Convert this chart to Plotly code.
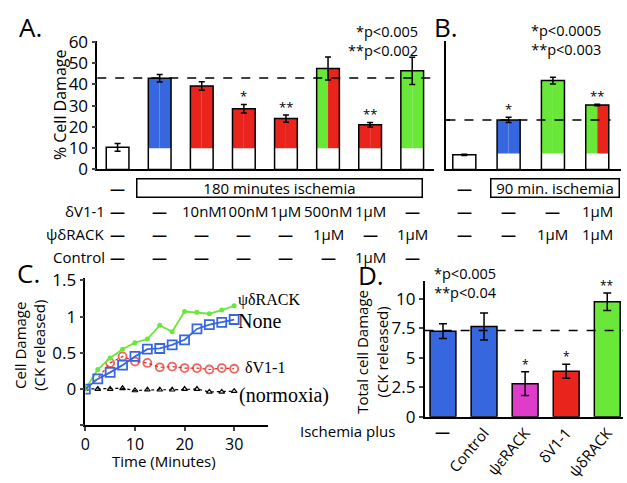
import plotly.graph_objects as go

W, H = 627, 483
def px(x): return x / W
def py(y): return 1 - y / H

FONT = "Open Sans"
SERIF = "Liberation Serif"
BLUE = "#3767df"
RED = "#e8241c"
GREEN = "#6ae83a"
MAGENTA = "#e03ccc"

# ---------------- Panel A data ----------------
A_vals = [10.4, 42.9, 39.3, 28.6, 23.9, 47.5, 21.0, 46.4]
A_err = [1.8, 1.8, 2.0, 2.0, 1.7, 5.4, 1.1, 6.4]
A_base = 10
A_left = ["white", BLUE, RED, RED, RED, GREEN, RED, GREEN]
A_right = ["white", BLUE, RED, RED, RED, RED, RED, GREEN]
A_stars = ["", "", "", "*", "**", "", "**", ""]
A_ref = 43
A_dv1 = ["—", "—", "10nM", "100nM", "1μM", "500nM", "1μM", "—"]
A_psi = ["—", "—", "—", "—", "—", "1μM", "—", "1μM"]
A_ctrl = ["—", "—", "—", "—", "—", "—", "1μM", "—"]
A_isch = "180 minutes ischemia"
A_pvals = ["*p<0.005", "**p<0.002"]

# ---------------- Panel B data ----------------
B_vals = [6.9, 23.3, 41.8, 30.3]
B_err = [0.3, 1.2, 1.6, 0.4]
B_base = 7.5
B_left = ["white", BLUE, GREEN, GREEN]
B_right = ["white", BLUE, GREEN, RED]
B_stars = ["", "*", "", "**"]
B_ref = 23.3
B_dv1 = ["—", "—", "—", "1μM"]
B_psi = ["—", "—", "1μM", "1μM"]
B_isch = "90 min. ischemia"
B_pvals = ["*p<0.0005", "**p<0.003"]

row_labels = ["δV1-1", "ψδRACK", "Control"]

# ---------------- Panel C data ----------------
C_time = [0, 2.5, 5, 7.5, 10, 12.5, 15, 17.5, 20, 22.5, 25, 27.5, 30]
C_psi = [0, 0.27, 0.43, 0.55, 0.64, 0.69, 0.88, 0.79, 1.07, 1.06, 1.04, 1.09, 1.15]
C_none = [0, 0.14, 0.23, 0.33, 0.45, 0.55, 0.56, 0.61, 0.68, 0.83, 0.89, 0.92, 0.96]
C_dv1 = [0, 0.15, 0.36, 0.45, 0.38, 0.36, 0.30, 0.31, 0.29, 0.29, 0.27, 0.29, 0.28]
C_norm = [0, 0.0, 0.0, 0.01, -0.02, -0.01, -0.01, -0.01, 0.0, 0.0, -0.04, -0.04, -0.03]
C_names = ["ψδRACK", "None", "δV1-1", "(normoxia)"]

# ---------------- Panel D data ----------------
D_cats = ["—", "Control", "ψεRACK", "δV1-1", "ψδRACK"]
D_vals = [7.25, 7.65, 2.8, 3.85, 9.75]
D_err = [0.63, 1.15, 1.0, 0.6, 0.75]
D_colors = [BLUE, BLUE, MAGENTA, RED, GREEN]
D_stars = ["", "", "*", "*", "**"]
D_ref = 7.3
D_pvals = ["*p<0.005", "**p<0.04"]

fig = go.Figure()

def stacked_bars(vals, err, base, left, right, xa, ya, width):
    n = len(vals)
    xs = list(range(n))
    fig.add_trace(go.Bar(x=xs, y=[min(v, base) for v in vals], width=width,
                         marker=dict(color="white", line=dict(width=0)),
                         xaxis=xa, yaxis=ya, showlegend=False, hoverinfo="skip"))
    tops = [max(v - base, 0) for v in vals]
    fig.add_trace(go.Bar(x=xs, y=tops, base=[base] * n, width=width / 2, offset=-width / 2,
                         marker=dict(color=left, line=dict(width=0)),
                         xaxis=xa, yaxis=ya, showlegend=False))
    fig.add_trace(go.Bar(x=xs, y=tops, base=[base] * n, width=width / 2, offset=0,
                         marker=dict(color=right, line=dict(width=0)),
                         xaxis=xa, yaxis=ya, showlegend=False))
    fig.add_trace(go.Bar(x=xs, y=vals, width=width,
                         marker=dict(color="rgba(0,0,0,0)", line=dict(color="black", width=1.5)),
                         error_y=dict(type="data", array=err, color="black", thickness=1.5, width=3),
                         xaxis=xa, yaxis=ya, showlegend=False))

stacked_bars(A_vals, A_err, A_base, A_left, A_right, "x", "y", 0.54)
stacked_bars(B_vals, B_err, B_base, B_left, B_right, "x2", "y2", 0.52)

# Panel C lines
fig.add_trace(go.Scatter(x=C_time, y=C_norm, mode="lines+markers", xaxis="x3", yaxis="y3",
                         line=dict(color="black", width=1.2, dash="dot"),
                         marker=dict(symbol="triangle-up-open", size=5, color="black", line=dict(width=1.2)),
                         showlegend=False))
fig.add_trace(go.Scatter(x=C_time, y=C_dv1, mode="lines+markers", xaxis="x3", yaxis="y3",
                         line=dict(color=RED, width=1.2, dash="dot"),
                         marker=dict(symbol="circle-open", size=[0, 0] + [8] * 11, color=RED, line=dict(width=1.8)),
                         showlegend=False))
fig.add_trace(go.Scatter(x=C_time, y=C_psi, mode="lines+markers", xaxis="x3", yaxis="y3",
                         line=dict(color=GREEN, width=1.8),
                         marker=dict(symbol="circle", size=5, color=GREEN),
                         showlegend=False))
fig.add_trace(go.Scatter(x=C_time, y=C_none, mode="lines+markers", xaxis="x3", yaxis="y3",
                         line=dict(color=BLUE, width=1.8),
                         marker=dict(symbol="square-open", size=9, color=BLUE, line=dict(width=1.8)),
                         showlegend=False))

# Panel D bars
fig.add_trace(go.Bar(x=list(range(len(D_vals))), y=D_vals, width=0.63,
                     marker=dict(color=D_colors, line=dict(color="black", width=1.5)),
                     error_y=dict(type="data", array=D_err, color="black", thickness=1.5, width=4),
                     xaxis="x4", yaxis="y4", showlegend=False))

tickfont = dict(family=FONT, size=17, color="black")
common_x = dict(showgrid=False, zeroline=False, showline=True, linecolor="black", linewidth=1.5)
common_y = dict(showgrid=False, zeroline=False, showline=True, linecolor="black", linewidth=1.5)

fig.update_layout(
    width=W, height=H, autosize=False,
    margin=dict(l=0, r=0, t=0, b=0),
    paper_bgcolor="white", plot_bgcolor="white",
    barmode="overlay",
    font=dict(family=FONT, color="black"),
    xaxis=dict(domain=[px(93), px(432)], range=[-0.483, 7.507], anchor="y",
               showticklabels=False, ticks="", **common_x),
    yaxis=dict(domain=[py(166), py(31)], range=[0, 60.6], anchor="x",
               tickvals=[0, 10, 20, 30, 40, 50, 60], ticks="outside", ticklen=4, tickwidth=1.5,
               tickfont=tickfont, **common_y),
    xaxis2=dict(domain=[px(445), px(621)], range=[-0.403, 3.537], anchor="y2",
                showticklabels=False, ticks="", **common_x),
    yaxis2=dict(domain=[py(166), py(31)], range=[0, 60.6], anchor="x2",
                tickvals=[B_ref], ticktext=[""], ticks="inside", ticklen=4, tickwidth=1.5, **common_y),
    xaxis3=dict(domain=[px(81), px(265)], range=[0, 36.8], anchor="y3",
                tickvals=[0, 10, 20, 30], ticks="outside", ticklen=4, tickwidth=1.5,
                tickfont=dict(family=FONT, size=16, color="black"), **common_x),
    yaxis3=dict(domain=[py(434), py(280)], range=[-0.5, 1.53], anchor="x3",
                tickvals=[-0.5, 0, 0.5, 1, 1.5], ticktext=["", "0", "0.5", "1", "1.5"],
                ticks="outside", ticklen=4, tickwidth=1.5, tickfont=tickfont, **common_y),
    xaxis4=dict(domain=[px(423), px(623)], range=[-0.447, 4.384], anchor="y4",
                tickvals=list(range(len(D_cats))), ticktext=[""] + D_cats[1:], tickangle=-50,
                ticks="", tickfont=dict(family=FONT, size=15, color="black"), **common_x),
    yaxis4=dict(domain=[py(425), py(283)], range=[0, 11.5], anchor="x4",
                tickvals=[0, 2.5, 5, 7.5, 10], ticks="outside", ticklen=4, tickwidth=1.5,
                tickfont=tickfont, **common_y),
)

# Reference dashed lines
fig.add_shape(type="line", xref="x domain", yref="y", x0=0, x1=1, y0=A_ref, y1=A_ref,
              line=dict(color="black", width=1.5, dash="dash"))
fig.add_shape(type="line", xref="x2 domain", yref="y2", x0=0, x1=0.94, y0=B_ref, y1=B_ref,
              line=dict(color="black", width=1.5, dash="dash"))
fig.add_shape(type="line", xref="x4 domain", yref="y4", x0=0, x1=1, y0=D_ref, y1=D_ref,
              line=dict(color="black", width=1.5, dash="dash"))

ann = []
def A(**kw):
    base = dict(showarrow=False, font=dict(family=FONT, size=15, color="black"))
    base.update(kw)
    ann.append(base)

# Panel letters
for t, x, y in [("A.", 12, 17), ("B.", 430, 17), ("C.", 10, 275), ("D.", 354, 277)]:
    A(text=t, xref="paper", yref="paper", x=px(x), y=py(y), xanchor="left", yanchor="middle",
      height=20, font=dict(family=FONT, size=26, color="black"))

# Axis titles
A(text="% Cell Damage", xref="paper", yref="paper", x=px(55), y=py(98), textangle=-90,
  xanchor="center", yanchor="middle", font=dict(family=FONT, size=16, color="black"))
A(text="Cell Damage<br>(CK released)", xref="paper", yref="paper", x=px(25), y=py(350),
  textangle=-90, xanchor="center", yanchor="middle", font=dict(family=FONT, size=15, color="black"))
A(text="Time (Minutes)", xref="paper", yref="paper", x=px(160), y=py(471),
  xanchor="center", yanchor="middle", font=dict(family=FONT, size=15, color="black"))
A(text="Total cell Damage<br>(CK released)", xref="paper", yref="paper", x=px(370), y=py(357),
  textangle=-90, xanchor="center", yanchor="middle", font=dict(family=FONT, size=15, color="black"))
A(text="Ischemia plus", xref="paper", yref="paper", x=px(345), y=py(440),
  xanchor="center", yanchor="middle", font=dict(family=FONT, size=15, color="black"))
A(text="<b>" + D_cats[0] + "</b>", xref="x4", yref="paper", x=0, y=py(440),
  xanchor="center", yanchor="middle")

# p-value notes (two-line blocks)
A(text="<br>".join(A_pvals), xref="paper", yref="paper", x=px(418), y=py(31), xanchor="right",
  yanchor="middle", align="right", font=dict(family=FONT, size=14.5, color="black"))
A(text="<br>".join(B_pvals), xref="paper", yref="paper", x=px(566), y=py(30), xanchor="center",
  yanchor="middle", align="center", font=dict(family=FONT, size=14.5, color="black"))
A(text="<br>".join(D_pvals), xref="paper", yref="paper", x=px(464), y=py(285), xanchor="center",
  yanchor="middle", align="center", font=dict(family=FONT, size=14.5, color="black"))

# Significance stars
for i, s in enumerate(A_stars):
    if s:
        A(text=s, xref="x", yref="y", x=i, y=A_vals[i] + A_err[i], yanchor="bottom",
          font=dict(family=FONT, size=13, color="black"), yshift=-3)
for i, s in enumerate(B_stars):
    if s:
        A(text=s, xref="x2", yref="y2", x=i, y=B_vals[i] + B_err[i], yanchor="bottom",
          font=dict(family=FONT, size=13, color="black"), yshift=-3)
for i, s in enumerate(D_stars):
    if s:
        A(text=s, xref="x4", yref="y4", x=i, y=D_vals[i] + D_err[i], yanchor="bottom",
          font=dict(family=FONT, size=12, color="black"), yshift=-3)

# Table under A/B
row_y = [210, 234, 258]
A_rows = [A_dv1, A_psi, A_ctrl]
B_rows = [B_dv1, B_psi, None]
def cell(t):
    return "<b>—</b>" if t == "—" else t
for r, lab in enumerate(row_labels):
    A(text=lab, xref="paper", yref="paper", x=px(103), y=py(row_y[r]), xanchor="right", yanchor="middle")
    for i, t in enumerate(A_rows[r]):
        A(text=cell(t), xref="x", yref="paper", x=i, y=py(row_y[r]), xanchor="center", yanchor="middle")
    if B_rows[r] is not None:
        for i, t in enumerate(B_rows[r]):
            A(text=cell(t), xref="x2", yref="paper", x=i, y=py(row_y[r]), xanchor="center", yanchor="middle")
# ischemia row
A(text=cell("—"), xref="x", yref="paper", x=0, y=py(185), xanchor="center", yanchor="middle")
A(text=cell("—"), xref="x2", yref="paper", x=0, y=py(185), xanchor="center", yanchor="middle")
A(text=A_isch, xref="paper", yref="paper", x=px(277), y=py(185), xanchor="center", yanchor="middle",
  width=282, height=15, bordercolor="black", borderwidth=1.5, borderpad=1, bgcolor="white")
A(text=B_isch, xref="paper", yref="paper", x=px(554), y=py(185), xanchor="center", yanchor="middle",
  width=125, height=15, bordercolor="black", borderwidth=1.5, borderpad=1, bgcolor="white")

# Panel C series labels
A(text=C_names[0], xref="paper", yref="paper", x=px(233), y=py(303), xanchor="left", yanchor="middle",
  font=dict(family=SERIF, size=16, color="black"))
A(text=C_names[1], xref="paper", yref="paper", x=px(233), y=py(325), xanchor="left", yanchor="middle",
  font=dict(family=SERIF, size=20, color="black"))
A(text=C_names[2], xref="paper", yref="paper", x=px(240), y=py(373), xanchor="left", yanchor="middle",
  font=dict(family=SERIF, size=16, color="black"))
A(text=C_names[3], xref="paper", yref="paper", x=px(234), y=py(403), xanchor="left", yanchor="middle",
  font=dict(family=SERIF, size=20, color="black"))

fig.update_layout(annotations=ann)
fig.write_html("out.html", config={"displayModeBar": False},
               post_script="document.body.style.margin='0';document.body.style.overflow='hidden';")
